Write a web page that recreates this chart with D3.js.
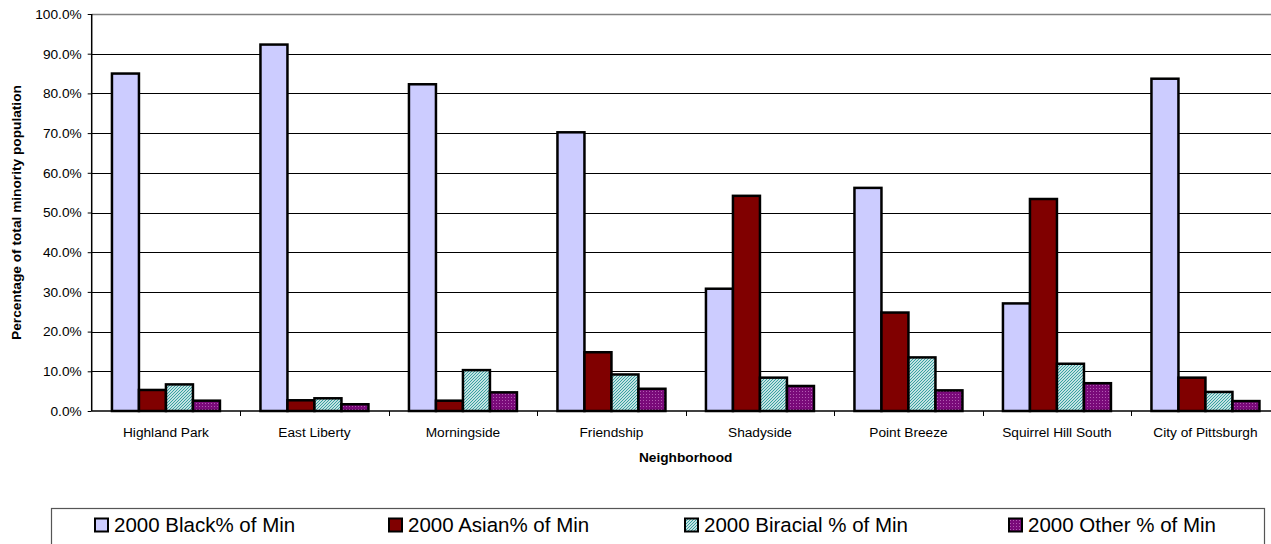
<!DOCTYPE html>
<html>
<head>
<meta charset="utf-8">
<script src="https://cdn.jsdelivr.net/npm/d3@7"></script>
<style>
  body { margin: 0; background: #fff; }
  svg { display: block; font-family: "Liberation Sans", Arial, sans-serif; }
  .axis text { font-size: 13.7px; fill: #000; }
  .axis path, .axis line { stroke: #000; }
</style>
</head>
<body>
<div class="chart-container"></div>
<script>
// data
var neighborhoods = ["Highland Park", "East Liberty", "Morningside", "Friendship",
  "Shadyside", "Point Breeze", "Squirrel Hill South", "City of Pittsburgh"];
var seriesNames = ["2000 Black% of Min", "2000 Asian% of Min", "2000 Biracial % of Min", "2000 Other % of Min"];
var blackPct    = [85.0, 92.3, 82.3, 70.2, 30.8, 56.2, 27.1, 83.7];
var asianPct    = [5.3, 2.7, 2.6, 14.8, 54.2, 24.8, 53.4, 8.4];
var biracialPct = [6.7, 3.2, 10.3, 9.2, 8.4, 13.5, 11.9, 4.8];
var otherPct    = [2.6, 1.7, 4.7, 5.6, 6.3, 5.2, 7.0, 2.5];
var yTicks = [0, 0.1, 0.2, 0.3, 0.4, 0.5, 0.6, 0.7, 0.8, 0.9, 1.0];

var values = [blackPct, asianPct, biracialPct, otherPct];
var fills = ["#ccccff", "#800000", "url(#hatch)", "url(#dots)"];

var W = 1271, H = 544;
var plot = {left: 91.7, top: 14, bottom: 411, catWidth: 148.5};

var svg = d3.select(".chart-container").append("svg")
    .attr("width", W)
    .attr("height", H);

// fill patterns for the two textured series
var defs = svg.append("defs");
var hatch = defs.append("pattern")
    .attr("id", "hatch")
    .attr("patternUnits", "userSpaceOnUse")
    .attr("width", 3).attr("height", 3);
hatch.append("rect").attr("width", 3).attr("height", 3).attr("fill", "#ffffff");
hatch.append("path")
    .attr("d", "M-1,1 l2,-2 M0,3 l3,-3 M2,4 l2,-2")
    .attr("stroke", "#2f9c9c").attr("stroke-width", 1.1);

var dots = defs.append("pattern")
    .attr("id", "dots")
    .attr("patternUnits", "userSpaceOnUse")
    .attr("width", 3).attr("height", 3);
dots.append("rect").attr("width", 3).attr("height", 3).attr("fill", "#7a0a7a");
dots.append("rect").attr("x", 1).attr("y", 1).attr("width", 1).attr("height", 1).attr("fill", "#b25ab2");

var x = d3.scaleBand()
    .domain(neighborhoods)
    .range([plot.left, plot.left + plot.catWidth * neighborhoods.length]);

// gap width 150% of a bar: 4 bars + 1.5 bar of gap per category
var barW = x.bandwidth() / 5.5;
var x1 = d3.scaleBand()
    .domain(d3.range(seriesNames.length))
    .range([barW * 0.75, x.bandwidth() - barW * 0.75]);

var y = d3.scaleLinear()
    .domain([0, 1])
    .range([plot.bottom, plot.top]);

// gridlines
svg.append("g")
    .selectAll("line")
    .data(yTicks.slice(1, -1))
  .enter().append("line")
    .attr("x1", plot.left).attr("x2", W)
    .attr("y1", function(d) { return Math.round(y(d)) + 0.5; })
    .attr("y2", function(d) { return Math.round(y(d)) + 0.5; })
    .attr("stroke", "#000").attr("stroke-width", 1);

// top border of plot area
svg.append("line")
    .attr("x1", plot.left).attr("x2", W)
    .attr("y1", y(1) + 0.5).attr("y2", y(1) + 0.5)
    .attr("stroke", "#808080").attr("stroke-width", 1.5);

// bars
var groups = svg.append("g")
    .selectAll("g")
    .data(seriesNames)
  .enter().append("g");

groups.selectAll("rect")
    .data(function(s, i) {
      return values[i].map(function(v, j) { return {s: i, cat: neighborhoods[j], v: v / 100}; });
    })
  .enter().append("rect")
    .attr("x", function(d) { return x(d.cat) + x1(d.s); })
    .attr("y", function(d) { return y(d.v); })
    .attr("width", x1.bandwidth())
    .attr("height", function(d) { return y(0) - y(d.v); })
    .attr("fill", function(d) { return fills[d.s]; })
    .attr("stroke", "#000")
    .attr("stroke-width", 2.5);

// y axis
svg.append("g")
    .attr("class", "axis")
    .attr("transform", "translate(" + plot.left + ",0)")
    .call(d3.axisLeft(y).tickValues(yTicks).tickFormat(d3.format(".1%")).tickSize(4).tickPadding(6))
    .call(function(g) { g.select(".domain").attr("d", "M0," + y(1) + "V" + y(0)).attr("stroke-width", 1.5); });

// x axis: labels at category centres, ticks at category boundaries
var xAxis = svg.append("g")
    .attr("class", "axis")
    .attr("transform", "translate(0," + plot.bottom + ")")
    .call(d3.axisBottom(x).tickSize(0).tickPadding(16));
xAxis.select(".domain").attr("d", "M" + plot.left + ",0H" + W).attr("stroke-width", 1.5);

xAxis.selectAll(".bound")
    .data(neighborhoods.slice(1))
  .enter().append("line")
    .attr("class", "bound")
    .attr("x1", function(d) { return Math.round(x(d)) + 0.5; })
    .attr("x2", function(d) { return Math.round(x(d)) + 0.5; })
    .attr("y1", 0).attr("y2", 5)
    .attr("stroke", "#000");

// axis titles
svg.append("text")
    .attr("transform", "translate(16," + ((plot.top + plot.bottom) / 2) + ") rotate(-90)")
    .attr("text-anchor", "middle")
    .attr("dy", "0.35em")
    .style("font-weight", "bold")
    .style("font-size", "13.7px")
    .text("Percentage of total minority population");

svg.append("text")
    .attr("x", (x.range()[0] + x.range()[1]) / 2)
    .attr("y", 457)
    .attr("dy", "0.35em")
    .attr("text-anchor", "middle")
    .style("font-weight", "bold")
    .style("font-size", "13.7px")
    .text("Neighborhood");

// legend
svg.append("rect")
    .attr("x", 51.5).attr("y", 508.5)
    .attr("width", 1213).attr("height", 60)
    .attr("fill", "none")
    .attr("stroke", "#555").attr("stroke-width", 1.2);

var legendX = [95, 389, 685, 1009];
var legend = svg.append("g")
    .selectAll("g")
    .data(seriesNames)
  .enter().append("g")
    .attr("transform", function(d, i) { return "translate(" + legendX[i] + ",525)"; });

legend.append("rect")
    .attr("x", 0).attr("y", -6.5)
    .attr("width", 13).attr("height", 13)
    .attr("fill", function(d, i) { return fills[i]; })
    .attr("stroke", "#000").attr("stroke-width", 2);

legend.append("text")
    .attr("x", 19)
    .attr("dy", "0.35em")
    .style("font-size", "20.5px")
    .text(function(d) { return d; });
</script>
</body>
</html>
